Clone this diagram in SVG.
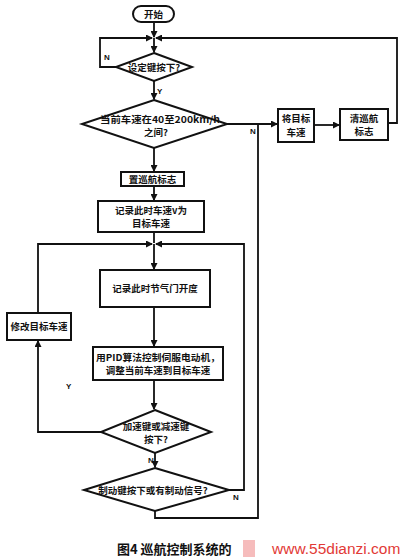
<svg xmlns="http://www.w3.org/2000/svg" width="406" height="560" viewBox="0 0 406 560">
<defs>
<marker id="ah" markerWidth="7" markerHeight="7" refX="6" refY="3.5" orient="auto" markerUnits="userSpaceOnUse">
<path d="M0,0 L7,3.5 L0,7 Z" fill="#111"/>
</marker>
<style>
.n{fill:#fff;stroke:#111;stroke-width:2}
.c{fill:none;stroke:#111;stroke-width:1.8}
.t{font-family:"Noto Sans CJK SC","Liberation Sans",sans-serif;font-weight:bold;font-size:9.5px;fill:#111;text-anchor:middle}
.l{font-family:"Liberation Sans",sans-serif;font-weight:bold;font-size:8px;fill:#111}
</style>
</defs>
<rect width="406" height="560" fill="#fff"/>
<g id="connectors">
<path class="c" d="M154,22 V37" marker-end="url(#ah)"/>
<path class="c" d="M154,38 V52" marker-end="url(#ah)"/>
<path class="c" d="M116,67 H100 V38 H152" marker-end="url(#ah)"/>
<path class="c" d="M388,123 H397 V38 H156" marker-end="url(#ah)"/>
<path class="c" d="M154,81 V99" marker-end="url(#ah)"/>
<path class="c" d="M227,124 H277" marker-end="url(#ah)"/>
<path class="c" d="M314,125 H339" marker-end="url(#ah)"/>
<path class="c" d="M154,148 V171" marker-end="url(#ah)"/>
<path class="c" d="M154,186 V200" marker-end="url(#ah)"/>
<path class="c" d="M154,232 V243"/>
<path class="c" d="M154,244 V269" marker-end="url(#ah)"/>
<path class="c" d="M38,313 V244 H152" marker-end="url(#ah)"/>
<path class="c" d="M229,490 H244 V244 H156" marker-end="url(#ah)"/>
<path class="c" d="M154,307 V346" marker-end="url(#ah)"/>
<path class="c" d="M154,380 V409" marker-end="url(#ah)"/>
<path class="c" d="M101,432 H38 V341" marker-end="url(#ah)"/>
<path class="c" d="M155,453 V467" marker-end="url(#ah)"/>
<path class="c" d="M155,511 V518 H258 V124"/>
<text class="l" x="104" y="60">N</text>
<text class="l" x="157" y="94">Y</text>
<text class="l" x="250" y="134">N</text>
<text class="l" x="66" y="389">Y</text>
<text class="l" x="148" y="463">N</text>
<text class="l" x="233" y="500">N</text>
</g>
<g id="start">
<rect class="n" x="133" y="6" width="41" height="16" rx="8"/>
<text class="t" x="153.5" y="17.5">开始</text>
</g>
<g id="d1">
<polygon class="n" points="154,53 192,67 154,81 116,67"/>
<text class="t" x="154" y="70.5" font-size="9">设定键按下?</text>
</g>
<g id="d2">
<polygon class="n" points="154,100 227,124 154,148 82,124"/>
<text class="t" x="160" y="123" font-size="9" textLength="120" lengthAdjust="spacingAndGlyphs">当前车速在40至200km/h</text>
<text class="t" x="156" y="136">之间?</text>
</g>
<g id="setflag">
<rect class="n" x="121" y="172" width="63" height="14"/>
<text class="t" x="152.5" y="182.5">置巡航标志</text>
</g>
<g id="recspeed">
<rect class="n" x="98" y="201" width="106" height="31"/>
<text class="t" x="151" y="214">记录此时车速v为</text>
<text class="t" x="151" y="227">目标车速</text>
</g>
<g id="throttle">
<rect class="n" x="100" y="270" width="110" height="37"/>
<text class="t" x="155" y="292">记录此时节气门开度</text>
</g>
<g id="pid">
<rect class="n" x="93" y="347" width="130" height="33"/>
<text class="t" x="158" y="361" textLength="124" lengthAdjust="spacingAndGlyphs">用PID算法控制伺服电动机，</text>
<text class="t" x="158" y="374">调整当前车速到目标车速</text>
</g>
<g id="modify">
<rect class="n" x="7" y="313" width="64" height="27"/>
<text class="t" x="39" y="330">修改目标车速</text>
</g>
<g id="d3">
<polygon class="n" points="155,410 211,432 155,453 101,432"/>
<text class="t" x="156" y="430">加速键或减速键</text>
<text class="t" x="156" y="443">按下?</text>
</g>
<g id="d4">
<polygon class="n" points="155,468 229,490 155,511 84,490"/>
<text class="t" x="153" y="493.5" font-size="9.3">制动键按下或有制动信号?</text>
</g>
<g id="cleartarget">
<rect class="n" x="278" y="109" width="36" height="33"/>
<text class="t" x="296" y="122">将目标</text>
<text class="t" x="296" y="136">车速</text>
</g>
<g id="clearflag">
<rect class="n" x="340" y="109" width="48" height="31"/>
<text class="t" x="364" y="122">清巡航</text>
<text class="t" x="364" y="135">标志</text>
</g>
<g id="caption">
<text x="117" y="554" font-family="Noto Sans CJK SC,Liberation Sans,sans-serif" font-weight="bold" font-size="13" fill="#111">图4 巡航控制系统的</text>
<rect x="243" y="540" width="12" height="17" fill="#f2a0a0" opacity="0.7"/>
<text x="272" y="554" font-family="Liberation Sans,sans-serif" font-size="15.5" fill="#e23a36">www.55dianzi.com</text>
</g>
</svg>
